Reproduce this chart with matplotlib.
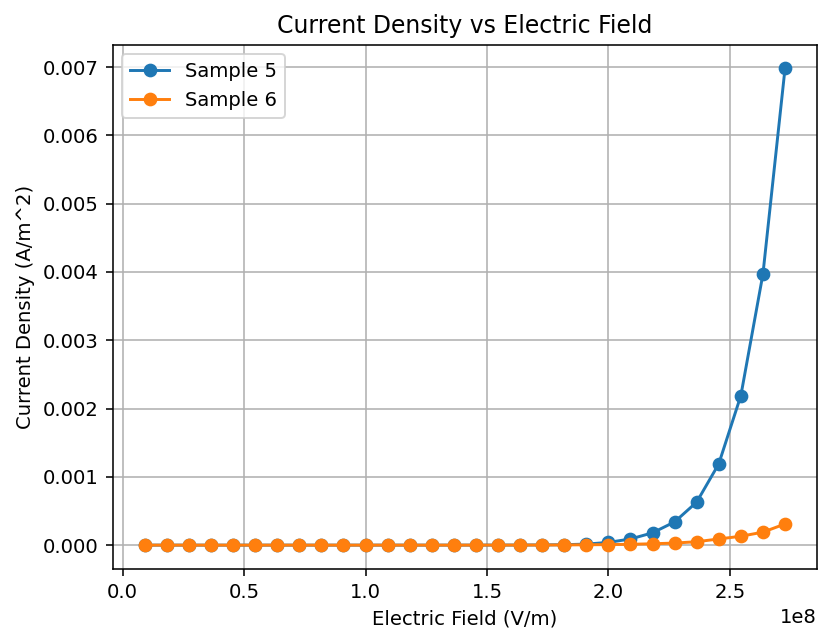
import matplotlib
matplotlib.use("Agg")
import matplotlib.pyplot as plt
import numpy as np

field = np.array([0.0909, 0.1818, 0.2727, 0.3636, 0.4545, 0.5455, 0.6364, 0.7273, 0.8182, 0.9091,
                  1.0000, 1.0909, 1.1818, 1.2727, 1.3636, 1.4545, 1.5455, 1.6364, 1.7273, 1.8182,
                  1.9091, 2.0000, 2.0909, 2.1818, 2.2727, 2.3636, 2.4545, 2.5455, 2.6364, 2.7273]) * 1e8

sample5 = [0.0, 0.0, 0.0, 0.0, 0.0, 0.0, 0.0, 0.0, 0.0, 0.0,
           0.0, 0.0, 0.0000001, 0.0000001, 0.0000002, 0.0000004, 0.0000008, 0.0000015, 0.000003, 0.000006,
           0.000015, 0.00004, 0.00009, 0.00018, 0.00034, 0.00063, 0.00119, 0.00219, 0.00397, 0.00698]

sample6 = [0.0, 0.0, 0.0, 0.0, 0.0, 0.0, 0.0, 0.0, 0.0, 0.0,
           0.0, 0.0, 0.0, 0.0, 0.0000001, 0.0000002, 0.0000004, 0.0000008, 0.0000015, 0.000003,
           0.000005, 0.000008, 0.000012, 0.00002, 0.00003, 0.00005, 0.00009, 0.00013, 0.00019, 0.00031]

DPI = 141
fig = plt.figure(figsize=(819/DPI, 635/DPI), dpi=DPI)
ax = fig.add_axes([0.1376, 0.104, 0.860, 0.8257])
ax.plot(field, sample5, marker='o', label='Sample 5')
ax.plot(field, sample6, marker='o', label='Sample 6')
ax.set_title('Current Density vs Electric Field')
ax.set_xlabel('Electric Field (V/m)')
ax.set_ylabel('Current Density (A/m^2)')
ax.grid(True)
ax.legend(loc='upper left')
fig.savefig('out.png', dpi=DPI)
